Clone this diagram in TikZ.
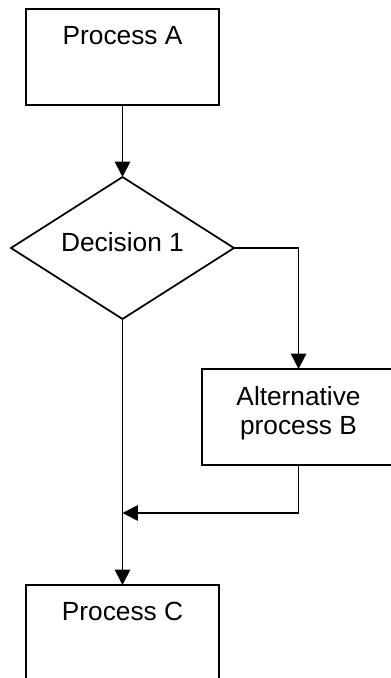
\documentclass[tikz,border=0pt]{standalone}
\usepackage{fontspec}
\setmainfont{Liberation Sans}
\usetikzlibrary{shapes.geometric, positioning, arrows.meta}

\begin{document}
\begin{tikzpicture}[
    process/.style={draw, rectangle, line width=1.3pt, inner sep=0pt, outer sep=0pt,
        minimum width=144.75pt, text height=26.5pt, text depth=45.5pt,
        align=center, font=\fontsize{19.7pt}{21.75pt}\selectfont},
    decision/.style={draw, diamond, line width=1.3pt, inner sep=0pt, outer sep=0pt,
        shape aspect=1.57, minimum width=167.25pt, minimum height=106.5pt,
        text height=14pt, text depth=8.5pt,
        font=\fontsize{19.7pt}{21.75pt}\selectfont},
    flow/.style={line width=1.3pt, -{Triangle[length=11.5pt,width=11.5pt]}}
]
    \useasboundingbox (-91.875pt,42.75pt) rectangle (200.625pt,-465.75pt);

    \node[process] (A) {Process A};
    \node[decision, below=54pt of A] (D) {Decision 1};
    \node[process, text height=48.75pt, text depth=23.25pt,
        below=90.75pt of D.east, xshift=48.4pt] (B) {Alternative\\process B};
    \node[process, below=199.5pt of D] (C) {Process C};

    \coordinate[below=36pt of B.south] (bend);
    \coordinate (join) at (bend -| D.south);

    \draw[flow] (A) -- (D);
    \draw[flow] (D.east) -| (B.north);
    \draw[flow] (D.south) -- (C.north);
    \draw[flow] (B.south) -- (bend) -- (join);
\end{tikzpicture}
\end{document}
